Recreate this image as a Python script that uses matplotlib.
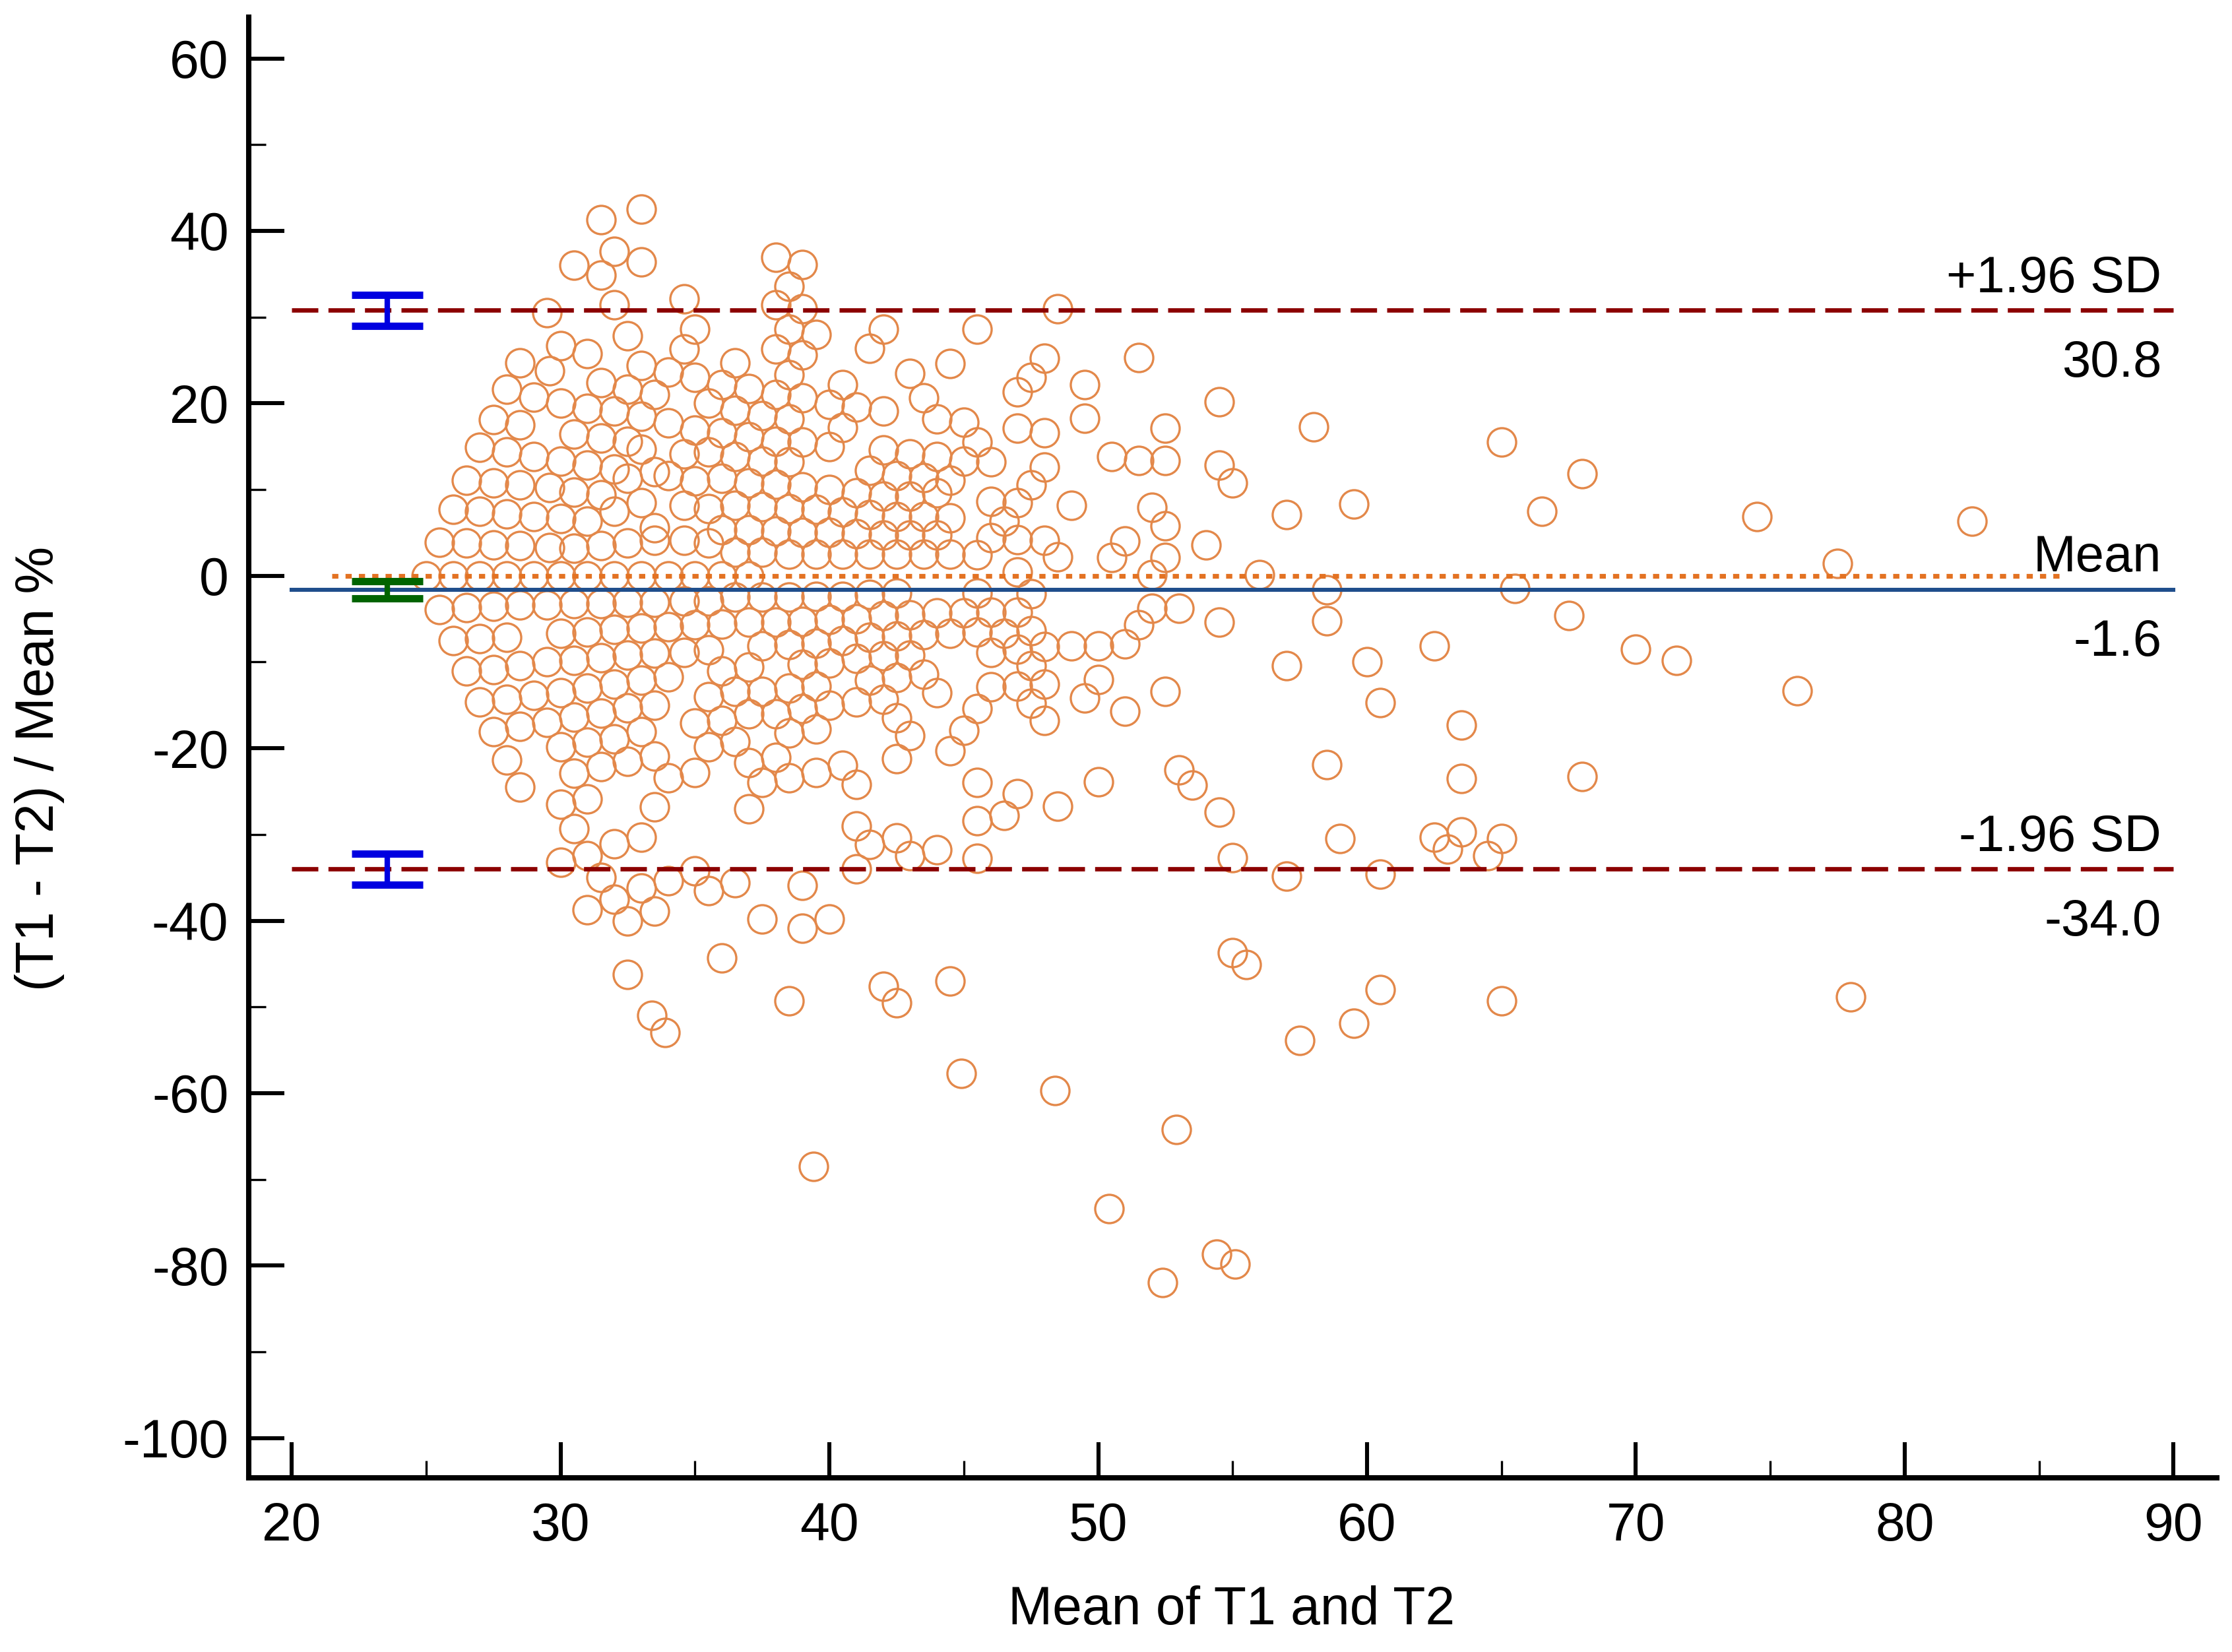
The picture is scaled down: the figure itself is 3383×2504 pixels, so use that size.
import numpy as np
import matplotlib
matplotlib.use("Agg")
import matplotlib.pyplot as plt
from matplotlib.ticker import MultipleLocator

plt.rcParams['font.family'] = ['Liberation Sans', 'DejaVu Sans']
plt.rcParams['axes.unicode_minus'] = False

# statistics shown on the plot
bias = -1.6
upper_loa = 30.8
lower_loa = -34.0
bias_ci = (-2.6, -0.6)
upper_ci = (29.0, 32.6)
lower_ci = (-35.8, -32.2)

# points, split by region
# upper left block (mean <= 36, diff > 0)
ul_x = [33.0, 31.5, 32.0, 30.5, 31.5, 33.0,
        32.0, 29.5, 34.6, 35.0, 32.5, 30.0, 31.0, 34.6, 28.5, 33.0, 29.6, 34.0, 35.0,
        28.0, 29.0, 30.0, 31.5, 32.5, 33.5, 36.0,
        31.0, 32.0, 33.0, 34.0, 35.5,
        27.5, 28.5, 30.5, 31.5, 32.5, 35.0, 36.0,
        27.0, 28.0, 29.0, 30.0, 31.0, 32.0, 33.0, 33.5, 34.6, 35.5,
        26.5, 27.5, 28.5, 29.6, 30.5, 31.5, 32.5, 34.0, 35.0, 36.0,
        26.0, 27.0, 28.0, 29.0, 30.0, 31.0, 32.0, 33.0, 33.5, 34.6, 35.5, 36.0,
        25.5, 26.5, 27.5, 28.5, 29.6, 30.5, 31.5, 32.5, 33.5, 34.6, 35.5]
ul_y = [42.5, 41.3, 37.6, 36.0, 34.9, 36.4,
        31.4, 30.5, 32.1, 28.6, 27.8, 26.7, 25.8, 26.3, 24.7, 24.4, 23.8, 23.6, 23.0,
        21.6, 20.7, 20.0, 22.4, 21.6, 21.0, 22.2,
        19.4, 19.1, 18.5, 17.7, 20.0,
        18.1, 17.5, 16.4, 16.0, 15.6, 16.9, 16.6,
        14.9, 14.4, 13.8, 13.3, 12.8, 12.4, 14.7, 12.1, 14.1, 14.4,
        11.1, 10.8, 10.5, 10.2, 9.7, 9.4, 11.3, 11.6, 11.0, 11.3,
        7.7, 7.5, 7.2, 6.9, 6.6, 6.3, 7.5, 8.5, 5.6, 8.2, 7.8, 5.3,
        3.9, 3.8, 3.6, 3.5, 3.3, 3.2, 3.5, 3.8, 4.1, 4.1, 3.8]

# row lying on the zero line
zero_x = [25.0, 26.0, 27.0, 28.0, 29.0, 30.0, 31.0, 32.0, 33.0, 34.0, 35.0, 36.0, 37.0]
zero_y = [0.0, 0.0, 0.0, 0.0, 0.0, 0.0, 0.0, 0.0, 0.0, 0.0, 0.0, 0.0, 0.0]

# upper middle block (36.5 <= mean < 50, diff > 0)
um_x = [38.0, 39.0, 38.5, 38.0, 39.0, 48.5,
        38.5, 39.5, 42.0, 41.5, 45.5,
        38.0, 39.0, 36.5, 44.5, 48.0,
        38.5, 40.5, 43.0, 47.5, 47.0, 49.5,
        37.0, 38.0, 39.0, 40.0, 41.0, 42.0, 43.5,
        36.5, 37.5, 38.5, 40.5, 44.0, 45.0, 47.0, 48.0, 49.5,
        37.0, 38.0, 39.0, 40.0, 45.5,
        42.0, 43.0, 44.0, 45.0, 46.0,
        36.5, 37.5, 38.5, 41.5, 42.5, 43.5, 44.5, 48.0,
        37.0, 38.0, 39.0, 40.0, 41.0, 42.0, 43.0, 44.0, 47.5, 46.0, 47.0, 49.0,
        36.5, 37.5, 38.5, 39.5, 40.5, 41.5, 42.5, 43.5, 44.5, 46.5,
        37.0, 38.0, 39.0, 40.0, 41.0, 42.0, 43.0, 44.0, 46.0, 47.0, 48.0,
        36.5, 37.5, 38.5, 39.5, 40.5, 41.5, 42.5, 43.5, 44.5, 45.5, 48.5, 47.0]
um_y = [36.9, 36.1, 33.6, 31.4, 31.0, 31.0,
        28.6, 28.0, 28.6, 26.4, 28.6,
        26.3, 25.6, 24.7, 24.6, 25.2,
        23.3, 22.2, 23.5, 23.0, 21.3, 22.2,
        21.7, 21.0, 20.6, 19.9, 19.6, 19.1, 20.6,
        19.2, 18.6, 18.2, 17.2, 18.2, 17.8, 17.1, 16.6, 18.3,
        16.1, 15.6, 15.5, 15.0, 15.5,
        14.6, 14.1, 13.8, 13.3, 13.2,
        13.8, 13.3, 13.2, 12.2, 11.6, 11.4, 11.1, 12.6,
        10.8, 10.6, 10.3, 10.0, 9.6, 9.2, 9.2, 9.6, 10.5, 8.6, 8.5, 8.2,
        8.2, 8.0, 7.8, 7.7, 7.4, 7.1, 6.9, 6.9, 6.7, 6.3,
        5.3, 5.2, 5.0, 5.0, 4.9, 4.7, 4.7, 4.7, 4.4, 4.2, 4.1,
        2.7, 2.7, 2.5, 2.5, 2.5, 2.5, 2.5, 2.5, 2.5, 2.4, 2.2, 0.4]

# lower left block (mean <= 36, diff < 0)
ll_x = [25.5, 26.5, 27.5, 28.5, 29.5, 30.5, 31.5, 32.5, 33.5, 34.6, 35.5,
        26.0, 27.0, 28.0, 30.0, 31.0, 32.0, 33.0, 34.0, 35.0, 36.0,
        26.5, 27.5, 28.5, 29.5, 30.5, 31.5, 32.5, 33.5, 34.6, 35.5, 36.0,
        27.0, 28.0, 29.0, 30.0, 31.0, 32.0, 33.0, 34.0, 35.5,
        27.5, 28.5, 29.5, 30.5, 31.5, 32.5, 33.5, 35.0, 36.0,
        28.0, 30.0, 31.0, 32.0, 33.0, 35.5,
        28.5, 30.5, 31.5, 32.5, 33.5, 34.0, 35.0,
        30.0, 31.0, 33.5,
        30.5, 32.0, 33.0,
        30.0, 31.0,
        31.5, 33.0, 34.0, 35.0, 35.5,
        32.0, 31.0, 32.5, 33.5,
        36.0, 32.5]
ll_y = [-3.9, -3.7, -3.55, -3.4, -3.4, -3.2, -3.2, -3.1, -3.1, -2.9, -2.9,
        -7.5, -7.3, -7.1, -6.7, -6.5, -6.2, -6.05, -5.9, -5.7, -5.6,
        -11.05, -10.9, -10.4, -10.0, -9.8, -9.5, -9.2, -9.0, -8.9, -8.6, -11.05,
        -14.6, -14.3, -13.9, -13.6, -13.0, -12.6, -12.1, -11.7, -14.0,
        -18.1, -17.5, -17.0, -16.4, -15.9, -15.3, -15.0, -17.1, -16.8,
        -21.4, -19.8, -19.3, -18.9, -18.1, -19.8,
        -24.5, -22.9, -22.1, -21.5, -20.9, -23.4, -22.8,
        -26.5, -25.9, -26.8,
        -29.3, -31.05, -30.3,
        -33.2, -32.5,
        -35.0, -36.2, -35.4, -34.2, -36.5,
        -37.5, -38.7, -40.0, -38.9,
        -44.3, -46.2]

# lower middle block (36.5 <= mean < 50, diff < 0)
lm_x = [36.5, 37.5, 38.5, 39.5, 40.5, 41.5, 42.5, 45.5, 47.5,
        37.0, 38.0, 39.0, 40.0, 41.0, 42.0, 43.0, 44.0, 45.0, 46.0, 47.0,
        37.5, 38.5, 39.5, 40.5, 41.5, 42.5, 43.5, 44.5, 45.5, 46.5, 47.5, 46.0, 47.0, 48.0, 49.0,
        37.0, 39.0, 40.0, 41.0, 42.0, 43.0, 47.5,
        36.5, 37.5, 38.5, 39.5, 41.5, 42.5, 43.5, 44.0, 46.0, 47.0, 48.0, 49.5,
        37.0, 38.0, 39.0, 40.0, 41.0, 42.0, 45.5, 47.5, 48.0,
        36.5, 38.5, 39.5, 42.5, 45.0, 43.0,
        37.0, 38.0, 42.5, 44.5,
        37.5, 38.5, 39.5, 40.5, 41.0,
        37.0, 45.5, 47.0, 46.5, 45.5, 48.5,
        41.0, 41.5, 42.5, 43.0, 44.0, 45.5, 41.0,
        36.5, 39.0,
        37.5, 39.0, 40.0,
        42.0, 42.5, 44.5, 38.5]
lm_y = [-2.5, -2.5, -2.5, -2.4, -2.4, -2.2, -2.0, -2.0, -2.1,
        -5.4, -5.4, -5.3, -5.1, -5.0, -4.6, -4.5, -4.3, -4.3, -4.2, -4.2,
        -8.1, -8.0, -7.8, -7.5, -7.1, -7.0, -6.8, -6.7, -6.5, -6.7, -6.4, -8.9, -8.55, -8.2, -8.1,
        -10.6, -10.3, -10.1, -9.6, -9.3, -9.2, -10.4,
        -13.4, -13.4, -13.0, -12.8, -12.1, -11.8, -11.4, -13.55, -12.9, -12.8, -12.6, -14.2,
        -16.05, -16.05, -15.4, -15.0, -14.65, -14.3, -15.4, -14.8, -16.8,
        -19.2, -18.2, -17.8, -16.5, -17.9, -18.55,
        -21.7, -21.05, -21.2, -20.3,
        -24.0, -23.4, -22.8, -22.0, -24.2,
        -27.0, -24.0, -25.3, -27.8, -28.4, -26.7,
        -29.0, -31.2, -30.4, -32.5, -31.8, -32.8, -34.0,
        -35.6, -35.9,
        -39.8, -40.9, -39.8,
        -47.6, -49.5, -47.0, -49.3]

# sparse points to the right (mean >= 50)
r_x = [51.5, 54.5, 52.5, 58.0, 65.0,
       50.5, 51.5, 52.5, 54.5, 55.0, 68.0,
       52.0, 52.5, 51.0, 50.5, 52.5, 52.0, 54.0,
       57.0, 59.5, 66.5,
       56.0, 58.5, 65.5,
       52.0, 53.0, 51.5, 51.0, 50.0, 54.5, 58.5, 67.5,
       50.0, 51.0, 52.5,
       57.0, 60.0, 62.5, 60.5, 63.5,
       50.0, 53.0, 53.5, 54.5,
       58.5, 63.5, 68.0,
       55.0, 57.0, 59.0, 60.5,
       62.5, 63.0, 63.5, 64.5, 65.0,
       74.5, 82.5, 77.5, 71.5, 70.0, 76.0]
r_y = [25.3, 20.2, 17.1, 17.3, 15.5,
       13.8, 13.4, 13.4, 12.8, 10.8, 11.8,
       7.9, 5.8, 4.0, 2.1, 2.1, 0.1, 3.6,
       7.1, 8.3, 7.5,
       0.1, -1.6, -1.45,
       -3.8, -3.8, -5.7, -7.9, -8.1, -5.4, -5.2, -4.6,
       -12.0, -15.7, -13.4,
       -10.4, -10.0, -8.1, -14.7, -17.3,
       -23.9, -22.5, -24.3, -27.4,
       -21.9, -23.5, -23.3,
       -32.7, -34.8, -30.5, -34.6,
       -30.3, -31.7, -29.7, -32.5, -30.5,
       6.9, 6.3, 1.4, -9.8, -8.5, -13.3]

# outliers below the lower limit
low_x = [33.4, 33.9, 44.9, 48.4, 39.4, 50.4, 52.9, 52.4, 54.4, 55.1,
         55.0, 55.5, 57.5, 59.5, 60.5, 65.0, 78.0]
low_y = [-51.0, -53.0, -57.7, -59.7, -68.5, -73.4, -64.2, -82.0, -78.7, -79.8,
         -43.7, -45.1, -53.9, -51.9, -48.0, -49.3, -48.8]

mean_vals = np.concatenate([ul_x, zero_x, um_x, ll_x, lm_x, r_x, low_x])
diff_vals = np.concatenate([ul_y, zero_y, um_y, ll_y, lm_y, r_y, low_y])

fig = plt.figure(figsize=(3383 / 200, 2504 / 200), dpi=200)
ax = fig.add_axes([0.1114, 0.1055, 0.8817, 0.8842])

ax.plot(mean_vals, diff_vals, 'o', ms=15.5, mfc='none', mec='#E3884A', mew=1.2, zorder=2)

# line of equality, bias and limits of agreement
ax.plot([21.5, 86.0], [0, 0], color='#E37222', lw=2.6, dashes=(1.3, 1.5), zorder=3)
ax.plot([20, 90], [bias, bias], color='#1F4E8C', lw=2.2, zorder=3)
for v in (upper_loa, lower_loa):
    ax.plot([20, 90], [v, v], color='#8B0000', lw=2.4, dashes=(6.0, 2.3), zorder=3)

# confidence intervals
bar_x = 23.55
for (lo, hi), col in ((upper_ci, '#0000E0'), (lower_ci, '#0000E0'), (bias_ci, '#006400')):
    ax.errorbar([bar_x], [(lo + hi) / 2], yerr=[[(hi - lo) / 2], [(hi - lo) / 2]],
                fmt='none', ecolor=col, elinewidth=3.0, capsize=19.5, capthick=4.0, zorder=4)

# labels at the right end
tx = 89.55
ax.text(tx, upper_loa + 2.1, '+1.96 SD', ha='right', va='baseline', fontsize=28)
ax.text(tx, upper_loa - 7.7, '30.8', ha='right', va='baseline', fontsize=28)
ax.text(tx, bias + 2.1, 'Mean', ha='right', va='baseline', fontsize=28)
ax.text(tx, bias - 7.7, '-1.6', ha='right', va='baseline', fontsize=28)
ax.text(tx, lower_loa + 2.1, '-1.96 SD', ha='right', va='baseline', fontsize=28)
ax.text(tx, lower_loa - 7.7, '-34.0', ha='right', va='baseline', fontsize=28)

ax.set_xlim(18.4, 91.6)
ax.set_ylim(-104.6, 64.8)
for s in ('top', 'right'):
    ax.spines[s].set_visible(False)
for s in ('left', 'bottom'):
    ax.spines[s].set_linewidth(2.9)

ax.set_xticks(np.arange(20, 91, 10))
ax.set_yticks(np.arange(-100, 61, 20))
ax.xaxis.set_minor_locator(MultipleLocator(5))
ax.yaxis.set_minor_locator(MultipleLocator(10))
ax.tick_params(which='major', direction='in', length=19.5, width=2.2, labelsize=29)
ax.tick_params(which='minor', direction='in', length=9.5, width=1.2)
ax.tick_params(axis='y', which='major', pad=11)
ax.tick_params(axis='x', which='major', pad=13)

fig.text(0.5516, 0.0168, 'Mean of T1 and T2', ha='center', va='baseline', fontsize=29)
fig.text(0.0178, 0.5347, '(T1 - T2) / Mean %', ha='center', va='center', rotation=90, fontsize=29)

fig.savefig('out.png', dpi=200)
